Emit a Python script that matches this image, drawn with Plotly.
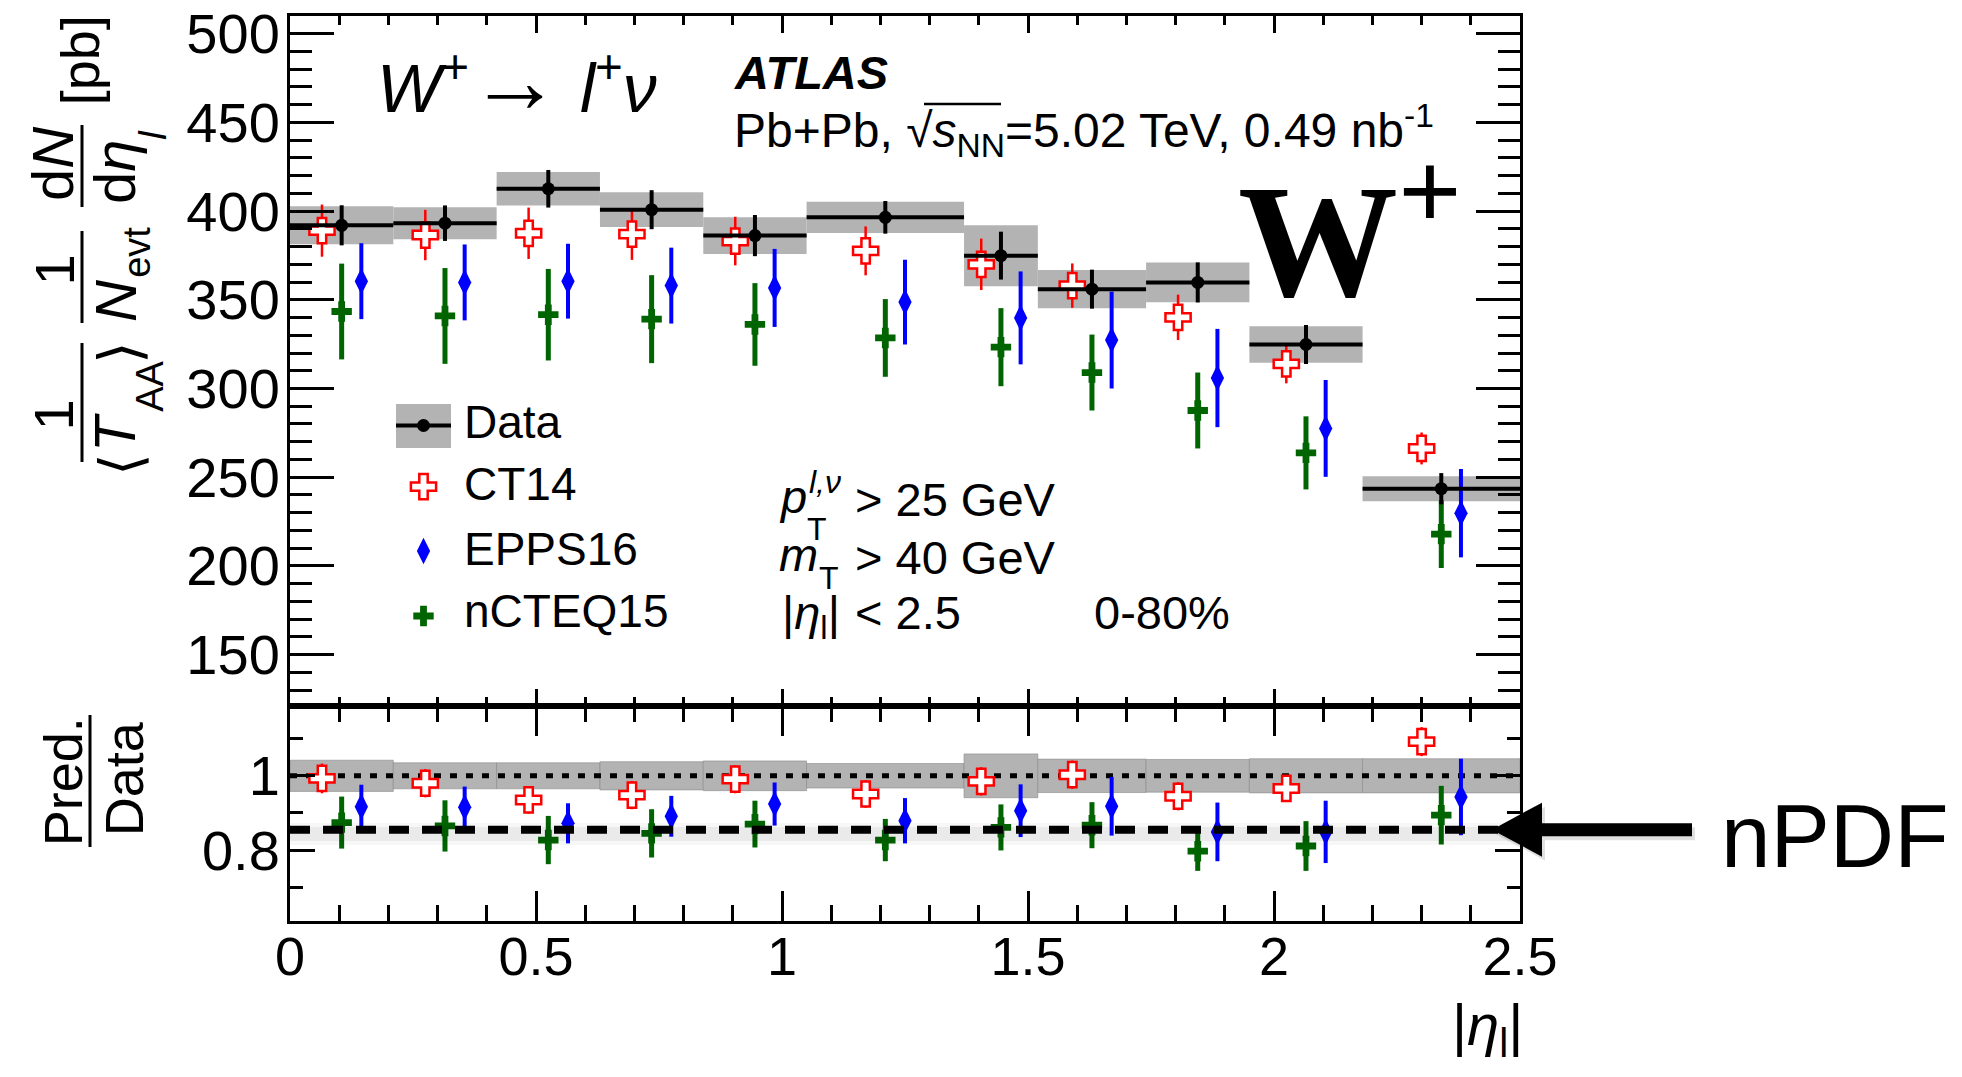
import plotly.graph_objects as go

# ---------------- data ----------------
bin_edges = [0.0, 0.21, 0.42, 0.63, 0.84, 1.05, 1.37, 1.52, 1.74, 1.95, 2.18, 2.5]

data_val = [392.0, 393.2, 412.6, 400.8, 386.2, 396.5, 374.9, 356.0, 359.8, 324.8, 243.5]
data_stat = [11.3, 10.0, 10.6, 11.0, 11.6, 9.2, 13.5, 11.0, 11.3, 11.0, 8.8]
data_syst = [10.7, 9.0, 9.4, 9.8, 10.4, 8.8, 17.2, 10.8, 11.2, 10.3, 7.0]

ct14_val = [389.0, 386.5, 387.5, 387.0, 383.1, 377.6, 370.0, 358.0, 340.1, 313.9, 266.2]
ct14_err = [14.7, 14.2, 14.5, 14.5, 13.7, 13.8, 14.5, 12.5, 12.8, 11.0, 9.0]

epps16_val = [360.5, 359.8, 360.5, 358.0, 356.7, 348.7, 339.8, 327.3, 305.9, 277.5, 229.7]
epps16_err = [21.4, 21.4, 21.1, 21.4, 22.0, 23.9, 26.2, 27.3, 27.7, 27.3, 24.9]

ncteq15_val = [343.4, 340.9, 341.6, 339.1, 336.1, 328.5, 323.3, 309.0, 287.6, 263.7, 217.9]
ncteq15_err = [27.0, 27.0, 25.8, 24.8, 23.3, 21.9, 22.0, 21.4, 21.4, 20.6, 19.1]

ratio_band = [0.042, 0.035, 0.035, 0.038, 0.040, 0.033, 0.059, 0.045, 0.044, 0.046, 0.046]
ct14_ratio = [0.993, 0.980, 0.935, 0.948, 0.991, 0.951, 0.985, 1.003, 0.945, 0.966, 1.092]
ct14_ratio_err = [0.040, 0.038, 0.037, 0.038, 0.038, 0.037, 0.038, 0.038, 0.038, 0.034, 0.039]
epps16_ratio = [0.917, 0.915, 0.872, 0.891, 0.924, 0.879, 0.906, 0.918, 0.849, 0.849, 0.943]
epps16_ratio_err = [0.059, 0.056, 0.054, 0.055, 0.058, 0.061, 0.071, 0.079, 0.079, 0.084, 0.103]
ncteq15_ratio = [0.874, 0.865, 0.827, 0.845, 0.870, 0.827, 0.861, 0.867, 0.797, 0.811, 0.894]
ncteq15_ratio_err = [0.070, 0.069, 0.065, 0.065, 0.063, 0.057, 0.062, 0.062, 0.053, 0.067, 0.079]

NPDF_LEVEL = 0.855

x_tick_vals = [0, 0.5, 1, 1.5, 2, 2.5]
x_tick_text = ["0", "0.5", "1", "1.5", "2", "2.5"]
y_tick_vals = [150, 200, 250, 300, 350, 400, 450, 500]
ratio_tick_vals = [0.8, 1.0]
ratio_tick_text = ["0.8", "1"]

legend_names = ["Data", "CT14", "EPPS16", "nCTEQ15"]

# ---------------- layout constants (pixels) ----------------
W, H = 1962, 1077
L, R, T, B = 290, 1520, 16, 921
SPLIT = 706
X_RANGE = [0, 2.5]
Y_RANGE = [121, 510]
R_RANGE = [0.609, 1.188]

SANS = "Liberation Sans, Arial, Helvetica, sans-serif"
SERIF = "Liberation Serif, Times New Roman, serif"
GRAY = "#b3b3b3"
RED = "#ff0000"
BLUE = "#0000ff"
GREEN = "#006400"
OFF = 0.04


def px2paper_x(px):
    return (px - L) / (R - L)


def px2paper_y(py):
    return (B - py) / (B - T)


def px2data_x(px):
    return X_RANGE[0] + (px - L) / (R - L) * (X_RANGE[1] - X_RANGE[0])


def px2data_y(py):
    return Y_RANGE[1] - (py - T) / (SPLIT - T) * (Y_RANGE[1] - Y_RANGE[0])


def text_center(text, baseline, size):
    top, bot = 0.905 * size, 0.212 * size
    if "<sup>" in text:
        top = max(top, 1.0535 * size)
    if "<sub>" in text:
        bot = max(bot, 0.358 * size)
    return baseline - (top - bot) / 2


annotations = []


def label(text, x, baseline, size, xanchor="left", family=SANS):
    annotations.append(dict(
        text=text, x=px2paper_x(x), y=px2paper_y(text_center(text, baseline, size)),
        xref="paper", yref="paper", showarrow=False, xanchor=xanchor, yanchor="middle",
        font=dict(family=family, size=size, color="black"), borderpad=0))


def vlabel(text, baseline_x, center_y, size, family=SANS):
    # rotated text reading bottom-to-top; baseline on the right side
    top, bot = 0.905 * size, 0.212 * size
    cx = baseline_x - (top - bot) / 2
    annotations.append(dict(
        text=text, x=px2paper_x(cx), y=px2paper_y(center_y),
        xref="paper", yref="paper", showarrow=False, xanchor="center", yanchor="middle",
        textangle=-90, font=dict(family=family, size=size, color="black"), borderpad=0))


shapes = []


def pline(x0, y0, x1, y1, width=3, color="black", layer="above"):
    shapes.append(dict(type="line", xref="paper", yref="paper",
                       x0=px2paper_x(x0), y0=px2paper_y(y0), x1=px2paper_x(x1), y1=px2paper_y(y1),
                       line=dict(color=color, width=width), layer=layer))


centers = [(a + b) / 2 for a, b in zip(bin_edges[:-1], bin_edges[1:])]
halfw = [(b - a) / 2 for a, b in zip(bin_edges[:-1], bin_edges[1:])]
widths = [b - a for a, b in zip(bin_edges[:-1], bin_edges[1:])]

fig = go.Figure()

# systematic boxes (top) and uncertainty band (ratio)
fig.add_trace(go.Bar(x=centers, y=[2 * s for s in data_syst],
                     base=[v - s for v, s in zip(data_val, data_syst)], width=widths,
                     marker=dict(color=GRAY, line=dict(width=0)), xaxis="x", yaxis="y"))
fig.add_trace(go.Bar(x=centers, y=[2 * b for b in ratio_band],
                     base=[1 - b for b in ratio_band], width=widths,
                     marker=dict(color=GRAY, line=dict(width=0.6, color="#8a8a8a")),
                     xaxis="x2", yaxis="y2"))

# dotted line at unity
fig.add_trace(go.Scatter(x=X_RANGE, y=[1, 1], mode="lines", xaxis="x2", yaxis="y2",
                         line=dict(color="black", width=5, dash="7px,9px")))


def theory(xs, ys, errs, color, symbol, size, thick, xa, ya, open_=False):
    if open_:
        marker = dict(symbol=symbol, size=size, color="white", line=dict(color=color, width=2.5))
    else:
        marker = dict(symbol=symbol, size=size, color=color, line=dict(width=0))
    return go.Scatter(x=xs, y=ys, mode="markers", marker=marker, xaxis=xa, yaxis=ya,
                      error_y=dict(type="data", array=errs, color=color, thickness=thick, width=0),
                      cliponaxis=False)


for xa, ya, cv, ce, ev, ee, nv, ne in [
    ("x", "y", ct14_val, ct14_err, epps16_val, epps16_err, ncteq15_val, ncteq15_err),
    ("x2", "y2", ct14_ratio, ct14_ratio_err, epps16_ratio, epps16_ratio_err, ncteq15_ratio, ncteq15_ratio_err),
]:
    fig.add_trace(theory([c - OFF for c in centers], cv, ce, RED, "cross", 21, 2.5, xa, ya, open_=True))
    fig.add_trace(theory([c + OFF for c in centers], ev, ee, BLUE, "diamond-tall", 19, 4, xa, ya))
    fig.add_trace(theory(centers, nv, ne, GREEN, "cross", 17, 5, xa, ya))

# data points
fig.add_trace(go.Scatter(x=centers, y=data_val, mode="markers", xaxis="x", yaxis="y",
                         marker=dict(symbol="circle", size=13, color="black"),
                         error_x=dict(type="data", array=halfw, color="black", thickness=4, width=0),
                         error_y=dict(type="data", array=data_stat, color="black", thickness=4, width=0)))

# nPDF dashed line with soft shadow
for w_, a_ in [(22, 0.03), (14, 0.05)]:
    fig.add_trace(go.Scatter(x=X_RANGE, y=[NPDF_LEVEL - 0.012, NPDF_LEVEL - 0.012], mode="lines",
                             xaxis="x2", yaxis="y2", line=dict(color=f"rgba(0,0,0,{a_})", width=w_)))
fig.add_trace(go.Scatter(x=X_RANGE, y=[NPDF_LEVEL, NPDF_LEVEL], mode="lines", xaxis="x2", yaxis="y2",
                         line=dict(color="black", width=8, dash="20px,13px")))

# ---------------- manual legend ----------------
LEG_MX = 423.5
leg_rows = [425.5, 486.6, 551.0, 616.0]
leg_text_base = [438, 500, 565, 627]
shapes.append(dict(type="rect", xref="paper", yref="paper", x0=px2paper_x(396), x1=px2paper_x(451),
                   y0=px2paper_y(448), y1=px2paper_y(404), fillcolor=GRAY, line=dict(width=0), layer="below"))
pline(396, leg_rows[0], 451, leg_rows[0], width=4, layer="below")
fig.add_trace(go.Scatter(x=[px2data_x(LEG_MX)], y=[px2data_y(leg_rows[0])], mode="markers", xaxis="x", yaxis="y",
                         marker=dict(symbol="circle", size=13, color="black")))
fig.add_trace(go.Scatter(x=[px2data_x(LEG_MX)], y=[px2data_y(leg_rows[1])], mode="markers", xaxis="x", yaxis="y",
                         marker=dict(symbol="cross", size=21, color="white", line=dict(color=RED, width=2.5))))
fig.add_trace(go.Scatter(x=[px2data_x(LEG_MX)], y=[px2data_y(leg_rows[2])], mode="markers", xaxis="x", yaxis="y",
                         marker=dict(symbol="diamond-tall", size=19, color=BLUE)))
fig.add_trace(go.Scatter(x=[px2data_x(LEG_MX)], y=[px2data_y(leg_rows[3])], mode="markers", xaxis="x", yaxis="y",
                         marker=dict(symbol="cross", size=17, color=GREEN)))
for name, bl in zip(legend_names, leg_text_base):
    label(name, 463, bl, 46)

# ---------------- texts ----------------
label("<i>W</i><sup>+</sup><span style='font-size:92px'>→</span> <i>l</i><sup>+</sup><i>ν</i>", 376, 109, 68)
label("<b><i>ATLAS</i></b>", 733, 89, 47)
label("Pb+Pb, √<i>s</i><sub>NN</sub>=5.02 TeV, 0.49 nb<sup>-1</sup>", 733, 147, 48)
pline(924, 104, 1001, 104, width=2.5)
label("<b>W<sup>+</sup></b>", 1237, 297, 160, family=SERIF)

label("<i>p</i>", 778, 513, 47)
label("<i>l,ν</i>", 808, 493, 32)
label("T", 806, 540, 32)
label("> 25 GeV", 854, 516, 47)
label("<i>m</i>", 778, 571, 47)
label("T", 818, 589, 32)
label("> 40 GeV", 854, 574, 47)
label("|<i>η</i><sub>l</sub>|", 781, 629, 47)
label("< 2.5", 854, 629, 47)
label("0-80%", 1093, 629, 47)

label("nPDF", 1720, 867, 89)

# x-axis title
label("|<i>η</i><sub>l</sub>|", 1524, 1045, 58, xanchor="right")

# y-axis title (top panel), built as stacked fractions
vlabel("[pb]", 99, 60, 54)
vlabel("d<i>N</i>", 73, 164, 58)
pline(82, 125, 82, 207, width=3)
vlabel("d<i>η</i>", 134, 172, 58)
vlabel("<i>l</i>", 166, 135, 38)
vlabel("1", 73, 270, 56)
pline(82, 231, 82, 323, width=3)
vlabel("<i>N</i>", 135, 301, 58)
vlabel("evt", 150, 252, 38)
vlabel("1", 73, 415, 56)
pline(82, 343, 82, 462, width=3)
vlabel("⟩", 140, 352, 58)
vlabel("<i>T</i>", 135, 432, 58)
vlabel("AA", 163, 386, 38)
vlabel("⟨", 140, 464, 58)

# ratio y title
vlabel("Pred.", 82, 782, 54)
pline(90, 715, 90, 847, width=3)
vlabel("Data", 143, 779, 54)

# ---------------- arrow pointing to the nPDF line ----------------
arrow_path = "M -28,0 L 22,27 L 22,6.5 L 172,6.5 L 172,-6.5 L 22,-6.5 L 22,-27 Z"
shadow_path = "M -25,-4 L 25,23 L 25,2.5 L 175,2.5 L 175,-10.5 L 25,-10.5 L 25,-31 Z"
shapes.append(dict(type="path", xref="paper", yref="y2", xsizemode="pixel", ysizemode="pixel",
                   xanchor=1, yanchor=NPDF_LEVEL, path=shadow_path,
                   fillcolor="rgba(0,0,0,0.12)", line=dict(width=0), layer="above"))
shapes.append(dict(type="path", xref="paper", yref="y2", xsizemode="pixel", ysizemode="pixel",
                   xanchor=1, yanchor=NPDF_LEVEL, path=arrow_path,
                   fillcolor="black", line=dict(width=0), layer="above"))

# ---------------- axes ----------------
split_frac = (B - SPLIT) / (B - T)
axis_common = dict(showline=True, linecolor="black", linewidth=3, mirror="ticks", ticks="inside",
                   tickcolor="black", tickwidth=2.5, showgrid=False, zeroline=False, fixedrange=True,
                   automargin=False)

fig.update_layout(
    width=W, height=H, margin=dict(l=L, r=W - R, t=T, b=H - B, pad=0, autoexpand=False),
    paper_bgcolor="white", plot_bgcolor="white", showlegend=False, barmode="overlay",
    font=dict(family=SANS, color="black"),
    xaxis=dict(axis_common, domain=[0, 1], anchor="y", range=X_RANGE, tickvals=x_tick_vals,
               showticklabels=False, ticklen=17,
               minor=dict(ticks="inside", ticklen=9, dtick=0.1, tick0=0, tickcolor="black", tickwidth=2.5)),
    xaxis2=dict(axis_common, domain=[0, 1], anchor="y2", range=X_RANGE, tickvals=x_tick_vals,
                ticktext=x_tick_text, ticklen=30, tickfont=dict(size=54, family=SANS),
                ticklabelstandoff=-14,
                minor=dict(ticks="inside", ticklen=16, dtick=0.1, tick0=0, tickcolor="black", tickwidth=2.5)),
    yaxis=dict(axis_common, domain=[split_frac, 1], anchor="x", range=Y_RANGE, tickvals=y_tick_vals,
               ticklen=44, tickfont=dict(size=56, family=SANS), ticklabelstandoff=-4,
               minor=dict(ticks="inside", ticklen=22, dtick=10, tick0=0, tickcolor="black", tickwidth=2.5)),
    yaxis2=dict(axis_common, domain=[0, split_frac], anchor="x2", range=R_RANGE, tickvals=ratio_tick_vals,
                ticktext=ratio_tick_text, ticklen=25, tickfont=dict(size=56, family=SANS),
                ticklabelstandoff=-4,
                minor=dict(ticks="inside", ticklen=13, dtick=0.1, tick0=0, tickcolor="black", tickwidth=2.5)),
    annotations=annotations,
    shapes=shapes,
)

fig.write_html("out.html")
